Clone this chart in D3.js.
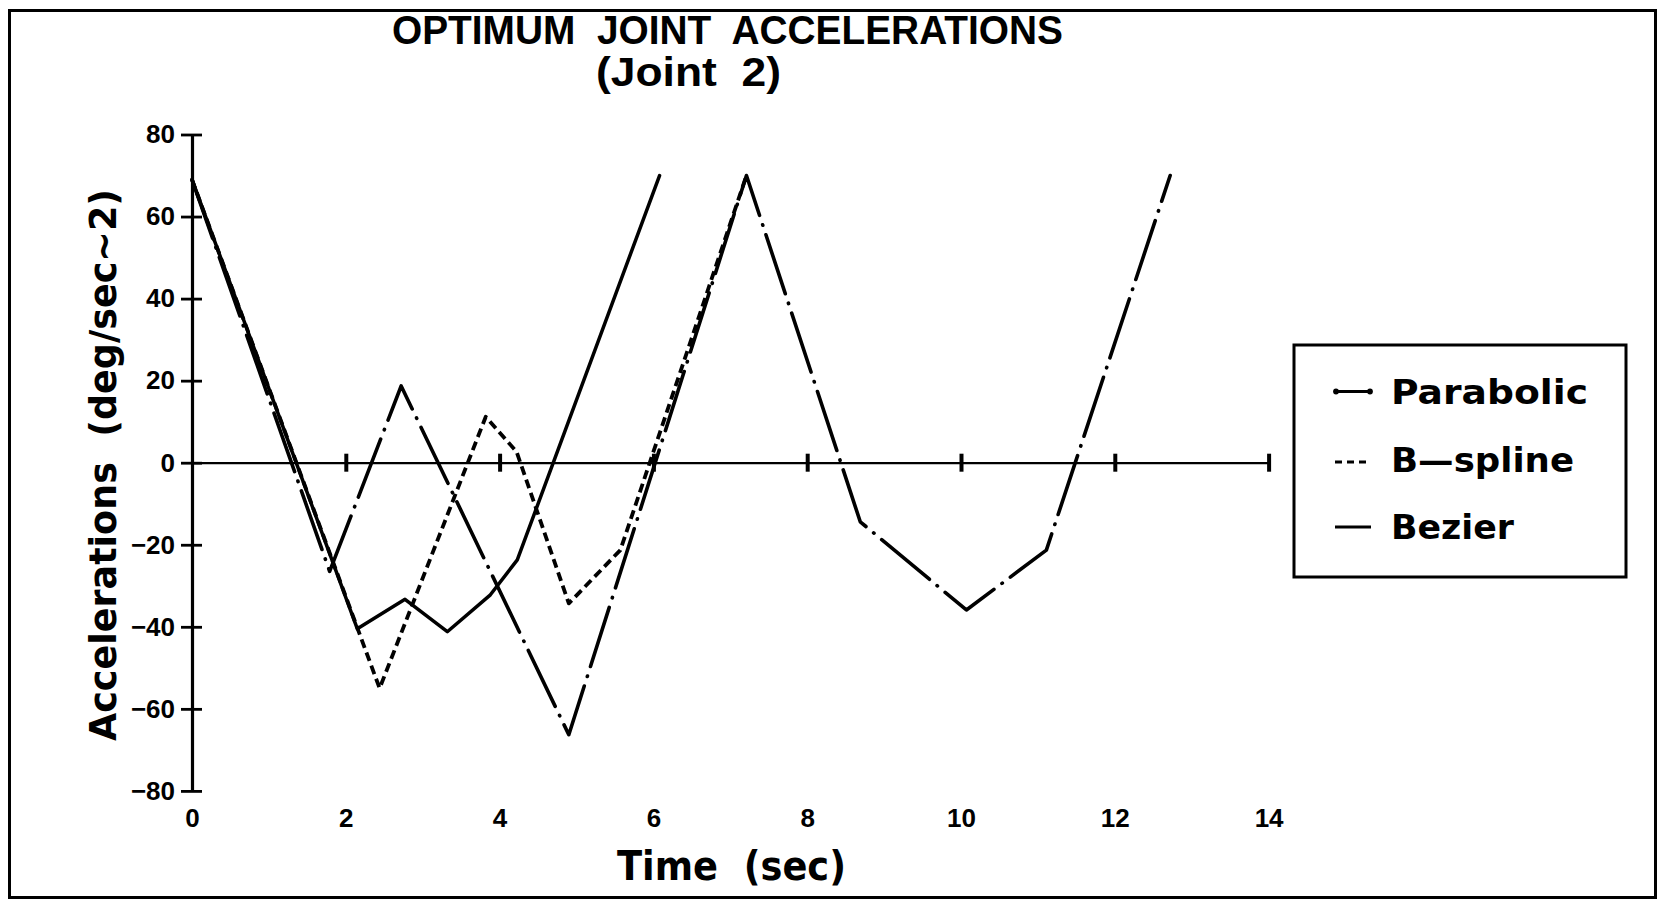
<!DOCTYPE html>
<html>
<head>
<meta charset="utf-8">
<script src="https://cdn.jsdelivr.net/npm/d3@7"></script>
<style>
  html, body { margin: 0; padding: 0; background: #fff; }
  svg { display: block; }
  text { white-space: pre; }
</style>
</head>
<body>
<svg id="chart" width="1659" height="900"></svg>
<script>
// Optimum joint accelerations for joint 2, three trajectory schemes.
const seriesNames = ["Parabolic", "B-spline", "Bezier"];

const parabolicTime = [0, 1.79, 2.72, 4.90, 7.21, 8.69, 10.07, 11.11, 12.72];
const parabolicAccel = [69, -26.5, 18.7, -66.3, 70, -14.4, -35.9, -21.3, 70];

const bsplineTime = [0, 2.44, 3.82, 4.22, 4.90, 5.57, 7.21];
const bsplineAccel = [69, -55, 11.2, 2.7, -34.3, -21.3, 70];

const bezierTime = [0, 2.15, 2.77, 3.32, 3.88, 4.23, 6.08];
const bezierAccel = [69, -40.5, -33.3, -41.2, -32.2, -23.7, 70];

const xTicks = [0, 2, 4, 6, 8, 10, 12, 14];
const yTicks = [-80, -60, -40, -20, 0, 20, 40, 60, 80];

const titleLines = ["OPTIMUM  JOINT  ACCELERATIONS", "(Joint  2)"];
const xTitle = "Time  (sec)";
const yTitle = "Accelerations  (deg/sec~2)";

const svg = d3.select("#chart");
const INK = "#000";

// page frame
svg.append("rect")
  .attr("x", 9.5).attr("y", 10.5).attr("width", 1646).attr("height", 887)
  .attr("fill", "#fff").attr("stroke", INK).attr("stroke-width", 3);

const x = d3.scaleLinear().domain([0, 14]).range([192, 1268.6]);
const y = d3.scaleLinear().domain([-80, 80]).range([790.9, 134.5]);

const tickFont = "'Liberation Sans', Arial, sans-serif";

// y axis with ticks crossing the spine
const yAxis = svg.append("g")
  .attr("transform", `translate(${x(0)},0)`)
  .call(d3.axisLeft(y).tickValues(yTicks).tickSize(11).tickSizeOuter(0).tickPadding(6));
yAxis.select(".domain").attr("stroke", INK).attr("stroke-width", 3.2);
yAxis.selectAll(".tick line").attr("x1", 10).attr("stroke", INK).attr("stroke-width", 2.8);
yAxis.selectAll(".tick text")
  .attr("fill", INK)
  .style("font-family", tickFont)
  .style("font-weight", "bold")
  .style("font-size", "26px");

// x axis drawn along zero acceleration; its labels sit below the plot
const labelY = 818;
const xAxis = svg.append("g")
  .attr("transform", `translate(0,${y(0)})`)
  .call(d3.axisBottom(x).tickValues(xTicks).tickSize(9).tickSizeOuter(0));
xAxis.select(".domain").attr("stroke", INK).attr("stroke-width", 2.2);
xAxis.selectAll(".tick line").attr("y1", -9).attr("stroke", INK).attr("stroke-width", 4);
xAxis.selectAll(".tick text")
  .attr("fill", INK)
  .attr("y", labelY - y(0))
  .attr("dy", "0.35em")
  .style("font-family", tickFont)
  .style("font-weight", "bold")
  .style("font-size", "26px");
xAxis.select(".tick line").attr("stroke-width", 0); // origin tick hidden under the spine

// series lines
const line = d3.line().x(d => x(d[0])).y(d => y(d[1]));
const zip = (ts, vs) => ts.map((t, i) => [t, vs[i]]);

const styles = {
  "Parabolic": { dash: "62,10,0.5,10", cap: "round", width: 3.6 },
  "B-spline":  { dash: "9,5", cap: "butt", width: 3.8 },
  "Bezier":    { dash: null, cap: "round", width: 3.5 }
};
const seriesData = [
  zip(parabolicTime, parabolicAccel),
  zip(bsplineTime, bsplineAccel),
  zip(bezierTime, bezierAccel)
];

const plot = svg.append("g");
seriesNames.forEach((name, i) => {
  const s = styles[name];
  plot.append("path")
    .datum(seriesData[i])
    .attr("d", line)
    .attr("fill", "none")
    .attr("stroke", INK)
    .attr("stroke-width", s.width)
    .attr("stroke-linejoin", "round")
    .attr("stroke-linecap", s.cap)
    .attr("stroke-dasharray", s.dash);
});

// titles
const titleFont = "'Liberation Sans', Arial, sans-serif";
svg.append("text")
  .attr("x", 392).attr("y", 44)
  .attr("textLength", 671).attr("lengthAdjust", "spacingAndGlyphs")
  .style("font-family", titleFont).style("font-weight", "bold").style("font-size", "40px")
  .text(titleLines[0]);
svg.append("text")
  .attr("x", 596).attr("y", 86)
  .attr("textLength", 185).attr("lengthAdjust", "spacingAndGlyphs")
  .style("font-family", titleFont).style("font-weight", "bold").style("font-size", "40px")
  .text(titleLines[1]);

const roundFont = "'DejaVu Sans', Verdana, sans-serif";
svg.append("text")
  .attr("x", 617).attr("y", 880)
  .attr("textLength", 229).attr("lengthAdjust", "spacingAndGlyphs")
  .style("font-family", roundFont).style("font-weight", "bold").style("font-size", "40px")
  .text(xTitle);

svg.append("text")
  .attr("transform", `translate(116,741) rotate(-90)`)
  .attr("x", 0).attr("y", 0)
  .attr("textLength", 552).attr("lengthAdjust", "spacingAndGlyphs")
  .style("font-family", roundFont).style("font-weight", "bold").style("font-size", "38px")
  .text(yTitle);

// legend
const legend = svg.append("g");
legend.append("rect")
  .attr("x", 1294).attr("y", 345).attr("width", 332).attr("height", 232)
  .attr("fill", "#fff").attr("stroke", INK).attr("stroke-width", 3);

const legendRows = [
  { name: "Parabolic", cy: 391.5, len: 197 },
  { name: "B-spline",  cy: 460,   len: 183 },
  { name: "Bezier",    cy: 527,   len: 123 }
];
const legendText = { "Parabolic": "Parabolic", "B-spline": "B\u2014spline", "Bezier": "Bezier" };
legendRows.forEach(r => {
  const g = legend.append("g");
  if (r.name === "Parabolic") {
    g.append("line").attr("x1", 1336).attr("x2", 1370).attr("y1", r.cy).attr("y2", r.cy)
      .attr("stroke", INK).attr("stroke-width", 2.8);
    [1336, 1370].forEach(cx => g.append("circle").attr("cx", cx).attr("cy", r.cy).attr("r", 2.9).attr("fill", INK));
  } else if (r.name === "B-spline") {
    g.append("line").attr("x1", 1335).attr("x2", 1367).attr("y1", r.cy + 2).attr("y2", r.cy + 2)
      .attr("stroke", INK).attr("stroke-width", 2.8).attr("stroke-dasharray", "7,5");
  } else {
    g.append("line").attr("x1", 1335).attr("x2", 1371).attr("y1", r.cy).attr("y2", r.cy)
      .attr("stroke", INK).attr("stroke-width", 2.8);
  }
  g.append("text")
    .attr("x", 1391).attr("y", r.cy + 12)
    .attr("textLength", r.len).attr("lengthAdjust", "spacingAndGlyphs")
    .style("font-family", roundFont).style("font-weight", "bold").style("font-size", "34px")
    .text(legendText[r.name]);
});
</script>
</body>
</html>
